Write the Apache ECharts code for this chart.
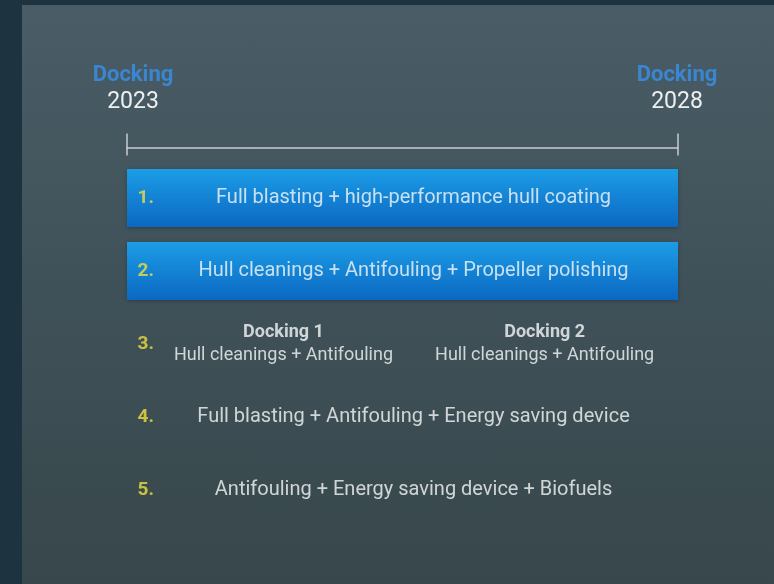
<!DOCTYPE html>
<html>
<head>
<meta charset="utf-8">
<script src="https://cdn.jsdelivr.net/npm/echarts@6/dist/echarts.min.js"></script>
<style>
  html, body { margin: 0; padding: 0; background: #1d3440; }
  #frame { position: absolute; left: 22px; top: 5px; right: 0; bottom: 0;
           background: linear-gradient(180deg, #4a5c65 0%, #41535b 40%, #37474b 100%); }
  #chart { position: absolute; left: 0; top: 0; width: 774px; height: 584px; }
</style>
</head>
<body>
<div id="frame"></div>
<div id="chart"></div>
<script>
// timeline ends
const yearStart = 2023;
const yearEnd = 2028;
const endLabel = 'Docking';

// five options, top to bottom
const rows = ['1.', '2.', '3.', '4.', '5.'];
const rowTexts = [
    'Full blasting + high-performance hull coating',
    'Hull cleanings + Antifouling + Propeller polishing',
    '',
    'Full blasting + Antifouling + Energy saving device',
    'Antifouling + Energy saving device + Biofuels'
];
// which rows get the blue band spanning the whole period
const bandRows = [0, 1];

// option 3 is split into two dockings
const splitDockings = [
    { title: 'Docking 1', text: 'Hull cleanings + Antifouling', at: 2024.42 },
    { title: 'Docking 2', text: 'Hull cleanings + Antifouling', at: 2026.79 }
];

const textAt = 2025.6;   // where row texts are centred
const numberAt = 2023.17; // where the row numbers sit

const FONT = 'Roboto, "Liberation Sans", sans-serif';
const LINE = '#c9cdd0';

const chart = echarts.init(document.getElementById('chart'), null, { renderer: 'canvas' });

const option = {
    backgroundColor: 'transparent',
    animation: false,
    grid: { left: 127, width: 551, top: 161.5, height: 365 },
    xAxis: [
        {
            // timeline drawn above the rows, ticks pointing up
            type: 'value', position: 'top', offset: 14,
            min: yearStart, max: yearEnd, interval: 5,
            splitLine: { show: false },
            axisLine: { show: true, onZero: false, lineStyle: { color: LINE, width: 1.5 } },
            axisTick: { show: true, length: 14, lineStyle: { color: LINE, width: 1.5 } },
            axisLabel: {
                margin: 31.5,
                formatter: (v) => {
                    const side = v === yearStart ? 'L' : 'R';
                    return '{d' + side + '|' + endLabel + '}\n{y' + side + '|' + v + '}';
                },
                rich: {
                    dL: { color: '#3b86d1', fontFamily: FONT, fontWeight: 'bold', fontSize: 22, padding: [0, 0, 0, 12], lineHeight: 27 },
                    dR: { color: '#3b86d1', fontFamily: FONT, fontWeight: 'bold', fontSize: 22, padding: [0, 2, 0, 0], lineHeight: 27 },
                    yL: { color: '#eef0f0', fontFamily: FONT, fontSize: 23, padding: [0, 0, 0, 12], lineHeight: 27 },
                    yR: { color: '#eef0f0', fontFamily: FONT, fontSize: 23, padding: [0, 2, 0, 0], lineHeight: 27 }
                }
            }
        },
        {
            // same line again, ticks pointing down
            type: 'value', position: 'top', offset: 14,
            min: yearStart, max: yearEnd, interval: 5,
            splitLine: { show: false },
            axisLine: { show: false },
            axisTick: { show: true, inside: true, length: 8, lineStyle: { color: LINE, width: 1.5 } },
            axisLabel: { show: false }
        }
    ],
    yAxis: {
        type: 'category', data: rows, inverse: true,
        axisLine: { show: false }, axisTick: { show: false }, axisLabel: { show: false },
        splitLine: { show: false }
    },
    series: [
        {
            type: 'custom',
            data: bandRows.map(r => [r, yearStart, yearEnd]),
            renderItem: (params, api) => {
                const p0 = api.coord([api.value(1), api.value(0)]);
                const p1 = api.coord([api.value(2), api.value(0)]);
                const h = 58;
                return {
                    type: 'rect',
                    shape: { x: p0[0], y: p0[1] - h / 2, width: p1[0] - p0[0], height: h },
                    style: {
                        fill: new echarts.graphic.LinearGradient(0, 0, 0, 1, [
                            { offset: 0, color: '#1c9de6' },
                            { offset: 1, color: '#0b68c2' }
                        ]),
                        shadowBlur: 4, shadowColor: 'rgba(0,0,0,0.25)', shadowOffsetY: 1
                    }
                };
            },
            z: 1
        },
        {
            // row numbers
            type: 'scatter', symbolSize: 0, silent: true,
            data: rows.map((r, i) => ({ value: [numberAt, i], name: r })),
            label: {
                show: true, position: 'inside', formatter: '{b}',
                color: '#eee03c', fontFamily: FONT, fontWeight: 'bold', fontSize: 19
            },
            z: 3
        },
        {
            // row texts
            type: 'scatter', symbolSize: 0, silent: true,
            data: rowTexts.map((t, i) => ({ value: [textAt, i], name: t })).filter(d => d.name),
            label: {
                show: true, position: 'inside', formatter: '{b}',
                color: '#f5f7f7', fontFamily: FONT, fontSize: 20
            },
            z: 3
        },
        {
            // option 3, two dockings
            type: 'scatter', symbolSize: 0, silent: true,
            data: splitDockings.map(d => ({ value: [d.at, 2], name: d.title, text: d.text })),
            label: {
                show: true, position: 'inside',
                formatter: (p) => '{t|' + p.name + '}\n{s|' + p.data.text + '}',
                rich: {
                    t: { color: '#f5f7f7', fontFamily: FONT, fontWeight: 'bold', fontSize: 18, lineHeight: 23 },
                    s: { color: '#f5f7f7', fontFamily: FONT, fontSize: 18, lineHeight: 23 }
                }
            },
            z: 3
        }
    ]
};

chart.setOption(option);
</script>
</body>
</html>
